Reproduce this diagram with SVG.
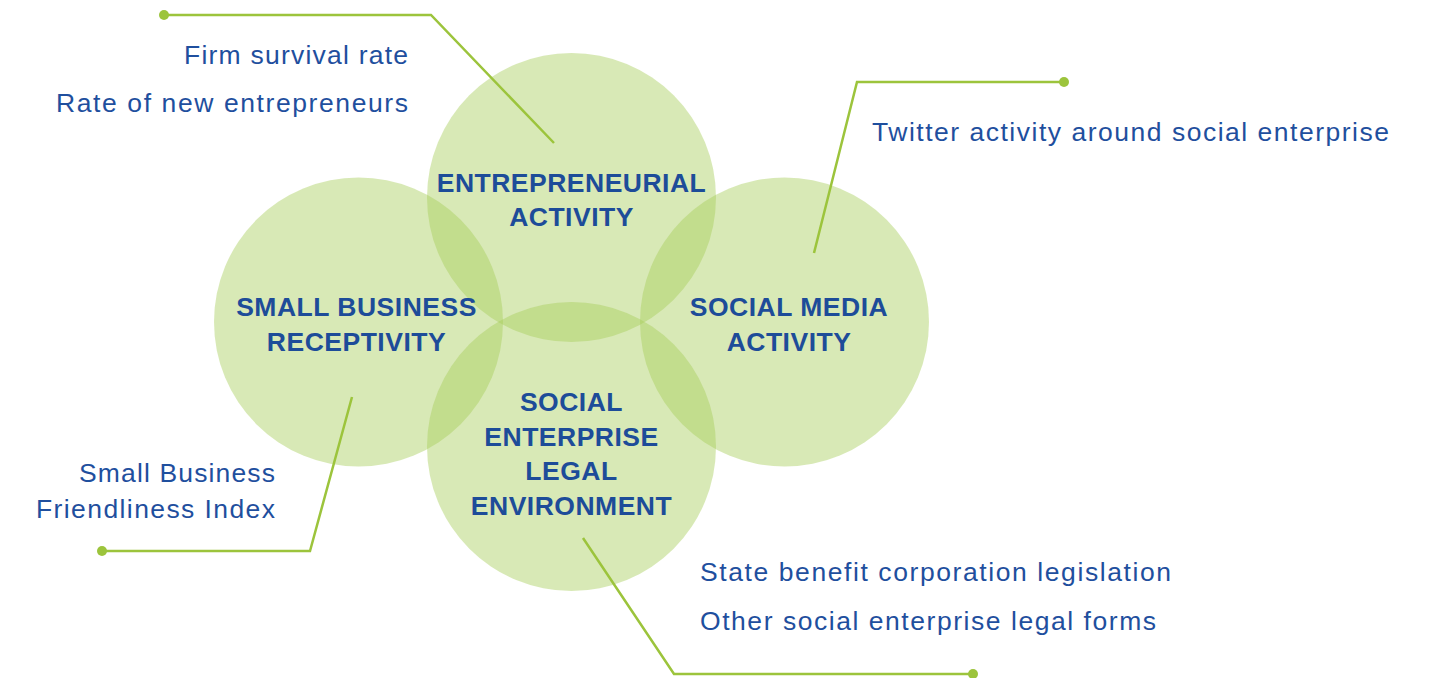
<svg xmlns="http://www.w3.org/2000/svg" width="1431" height="678" viewBox="0 0 1431 678">
<style>
.c{fill:#a6cc58;fill-opacity:0.44}
.l{fill:none;stroke:#9cc43c;stroke-width:2.5;stroke-linejoin:miter}
.d{fill:#9cc43c}
.h{font-family:"Liberation Sans",Arial,sans-serif;font-weight:bold;font-size:26.5px;letter-spacing:0.5px;fill:#1d4c99;text-anchor:middle}
.t{font-family:"Liberation Sans",Arial,sans-serif;font-size:26.5px;fill:#1f4f9e}
</style>
<rect width="1431" height="678" fill="#ffffff"/>
<g id="circles">
<g id="node-entrepreneurial"><circle class="c" cx="571.5" cy="197.5" r="144.5"/></g>
<g id="node-small-business"><circle class="c" cx="358.5" cy="322" r="144.5"/></g>
<g id="node-social-media"><circle class="c" cx="784.5" cy="322" r="144.5"/></g>
<g id="node-legal"><circle class="c" cx="571.5" cy="446.5" r="144.5"/></g>
</g>
<g id="connectors">
<polyline class="l" points="164,15 431,15 554,143"/>
<circle class="d" cx="164" cy="15" r="5"/>
<polyline class="l" points="1064,82 857,82 814,253"/>
<circle class="d" cx="1064" cy="82" r="5"/>
<polyline class="l" points="102,551 310,551 352,397"/>
<circle class="d" cx="102" cy="551" r="5"/>
<polyline class="l" points="583,538 674,674 973,674"/>
<circle class="d" cx="973" cy="674" r="5"/>
</g>
<g id="labels">
<text class="h" x="571.5" y="192">ENTREPRENEURIAL</text>
<text class="h" x="571.5" y="226">ACTIVITY</text>
<text class="h" x="356.5" y="316">SMALL BUSINESS</text>
<text class="h" x="356.5" y="351">RECEPTIVITY</text>
<text class="h" x="789" y="316">SOCIAL MEDIA</text>
<text class="h" x="789" y="351">ACTIVITY</text>
<text class="h" x="571.5" y="411">SOCIAL</text>
<text class="h" x="571.5" y="446">ENTERPRISE</text>
<text class="h" x="571.5" y="480">LEGAL</text>
<text class="h" x="571.5" y="515">ENVIRONMENT</text>
</g>
<g id="indicators">
<text class="t" x="184" y="64" textLength="224" lengthAdjust="spacing">Firm survival rate</text>
<text class="t" x="56" y="112" textLength="352" lengthAdjust="spacing">Rate of new entrepreneurs</text>
<text class="t" x="872" y="141" textLength="517" lengthAdjust="spacing">Twitter activity around social enterprise</text>
<text class="t" x="79" y="482" textLength="196" lengthAdjust="spacing">Small Business</text>
<text class="t" x="36" y="518" textLength="239" lengthAdjust="spacing">Friendliness Index</text>
<text class="t" x="700" y="581" textLength="471" lengthAdjust="spacing">State benefit corporation legislation</text>
<text class="t" x="700" y="630" textLength="456" lengthAdjust="spacing">Other social enterprise legal forms</text>
</g>
</svg>
